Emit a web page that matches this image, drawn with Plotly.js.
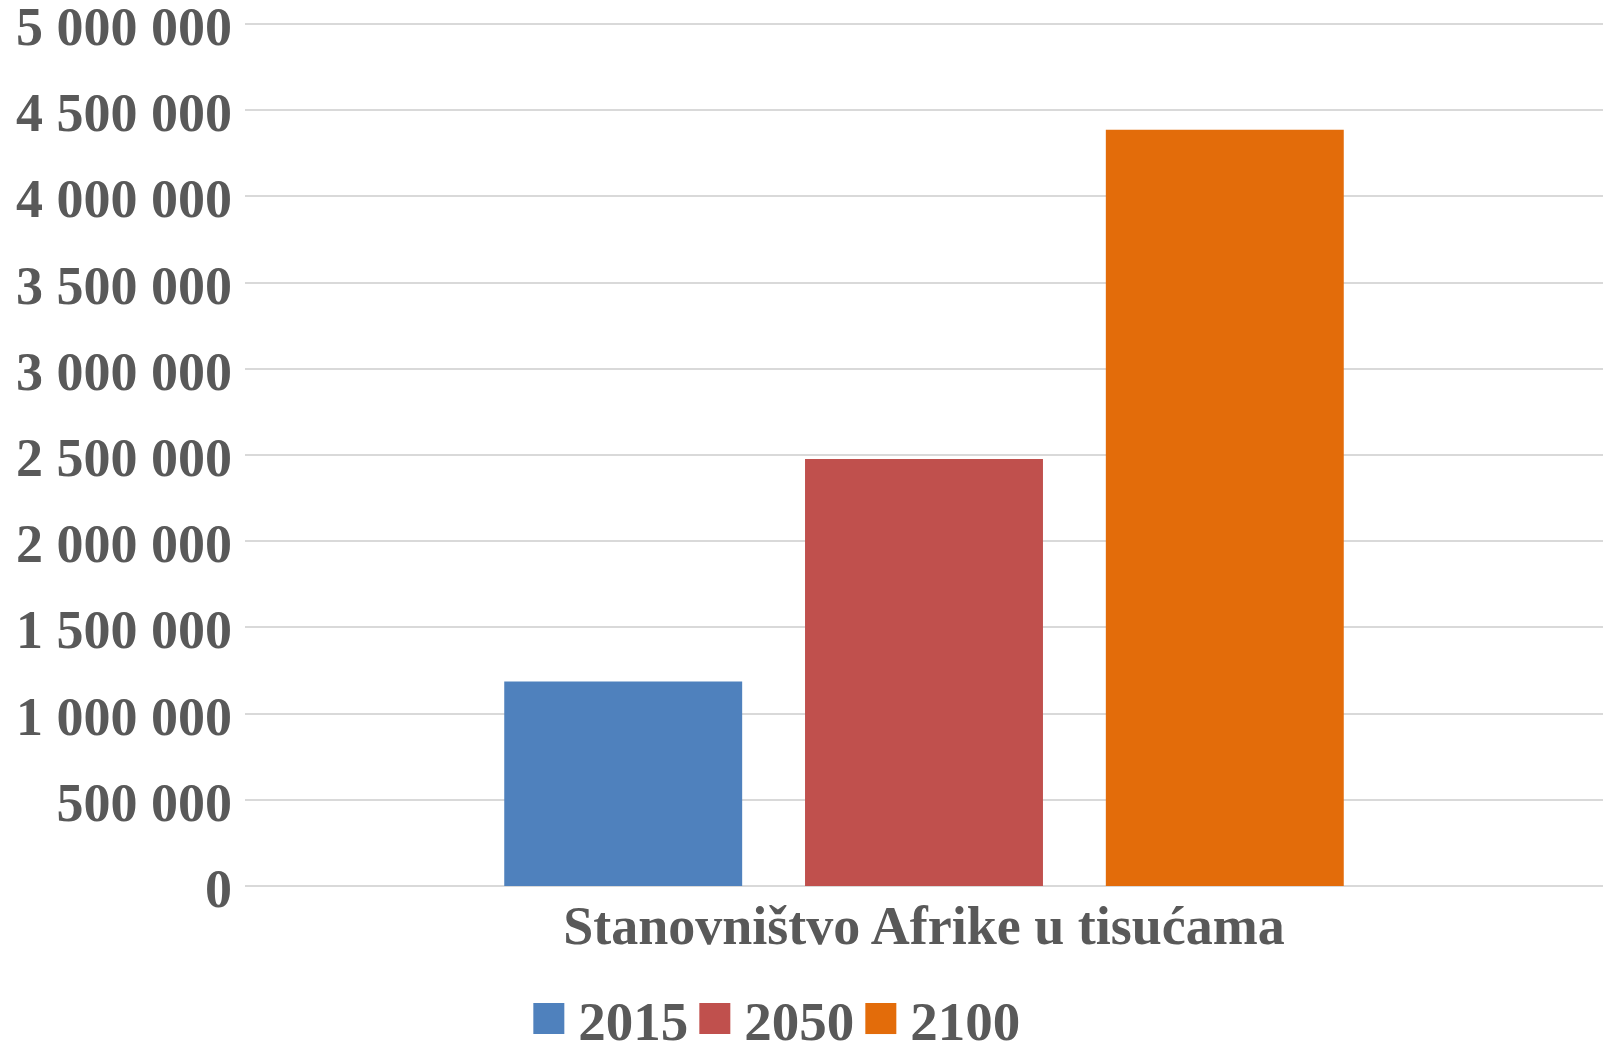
<!DOCTYPE html>
<html>
<head>
<meta charset="utf-8">
<script src="https://cdn.plot.ly/plotly-3.0.1.min.js"></script>
<style>html,body{margin:0;padding:0;background:#fff;}#chart{width:1604px;height:1044px;}</style>
</head>
<body>
<div id="chart"></div>
<script>
const category = ["Stanovništvo Afrike u tisućama"];
const seriesNames = ["2015", "2050", "2100"];
const values2015 = [1186178];
const values2050 = [2477536];
const values2100 = [4386591];
const colors = ["#4f81bd", "#c0504d", "#e36c0a"];
const tickVals = [0, 500000, 1000000, 1500000, 2000000, 2500000, 3000000, 3500000, 4000000, 4500000, 5000000];

const seriesValues = [values2015, values2050, values2100];
const FONT = "Liberation Serif, Times New Roman, serif";
const GREY = "#595959";

const traces = seriesNames.map((name, i) => ({
  type: "bar",
  name: name,
  x: category,
  y: seriesValues[i],
  marker: {color: colors[i]},
  hoverinfo: "y+name"
}));

const yMax = tickVals[tickVals.length - 1];

const layout = {
  width: 1604,
  height: 1044,
  margin: {l: 245, r: 1, t: 22, b: 158, autoexpand: false},
  paper_bgcolor: "#ffffff",
  plot_bgcolor: "#ffffff",
  barmode: "group",
  bargap: 0.3355,
  bargroupgap: 0.209,
  separators: ". ",
  showlegend: true,
  legend: {
    orientation: "h",
    x: 0.2079,
    xanchor: "left",
    y: -0.1537,
    yanchor: "middle",
    itemwidth: 41,
    entrywidth: 110,
    entrywidthmode: "pixels",
    font: {family: FONT, size: 55, color: GREY, weight: "bold"},
    bgcolor: "rgba(0,0,0,0)"
  },
  xaxis: {
    type: "category",
    showgrid: false,
    showline: false,
    ticks: "",
    ticklabelstandoff: 3,
    tickfont: {family: FONT, size: 54, color: GREY, weight: "bold"}
  },
  yaxis: {
    range: [0, yMax * 1.0024],
    tickvals: tickVals,
    tickformat: ",d",
    showgrid: true,
    gridcolor: "#d9d9d9",
    gridwidth: 2,
    zeroline: true,
    zerolinecolor: "#d9d9d9",
    zerolinewidth: 2,
    showline: false,
    ticks: "",
    ticklabelstandoff: 12,
    ticklabelshift: 2,
    ticklabeloverflow: "allow",
    tickfont: {family: FONT, size: 54, color: GREY, weight: "bold"},
    fixedrange: true
  }
};

Plotly.newPlot("chart", traces, layout, {displayModeBar: false, staticPlot: true}).then(gd => {
  document.querySelectorAll(".legend .legendpoints path").forEach(p => {
    p.setAttribute("d", "M11.5,15.5H-19.5V-15.5H11.5Z");
  });
});
</script>
</body>
</html>
